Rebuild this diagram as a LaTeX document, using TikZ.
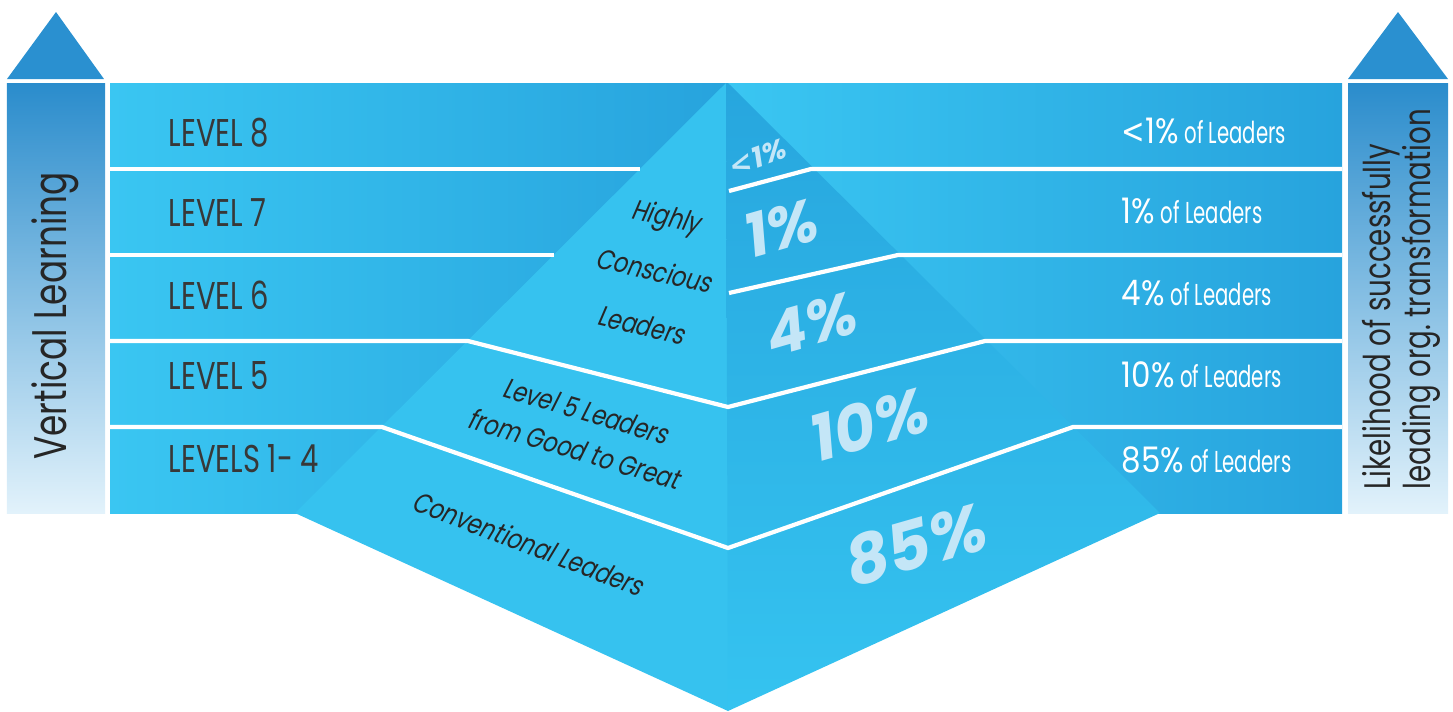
\documentclass[tikz,border=0pt]{standalone}
\usepackage{fontspec}
\setmainfont{Poppins}[FakeStretch=0.75]
\newfontfamily\facefont{Poppins}[FakeSlant=0.18, FakeStretch=0.8]
\newfontfamily\pctfont{Poppins}[UprightFont={* Bold}, FakeSlant=0.2]
\newfontfamily\numfont{Poppins}[FakeStretch=0.88]
\newfontfamily\narrowfont{Poppins}[FakeStretch=0.65]
\newfontfamily\lessfont{DejaVu Sans}[FakeStretch=0.8]
\newfontfamily\lessboldfont{DejaVu Sans}[UprightFont={* Bold}, FakeSlant=0.2]
\usepackage{tikz}

\definecolor{bandlight}{HTML}{3AC6F2}
\definecolor{banddark}{HTML}{27A3DD}
\definecolor{faceleft}{HTML}{36C2EF}
\definecolor{facetop}{HTML}{27A6DE}
\definecolor{facebot}{HTML}{35C3F0}
\definecolor{coltop}{HTML}{2A8CCC}
\definecolor{colbot}{HTML}{E2F2FB}
\definecolor{arrowtip}{HTML}{2A90D0}
\definecolor{levelgray}{HTML}{383838}
\definecolor{pctblue}{HTML}{C4E6F7}

\newcommand{\sharetext}[1]{{\numfont\fontsize{10}{12}\selectfont #1}\,{\narrowfont\fontsize{8.6}{10}\selectfont of Leaders}}

\tikzset{
    levellabel/.style={anchor=west, inner sep=0pt, text=levelgray, font=\fontsize{11}{13}\selectfont},
    sharelabel/.style={anchor=west, inner sep=0pt, text=white},
    facelabel/.style={inner sep=0pt, text=black!85, align=center, font=\facefont\fontsize{8}{11.3}\selectfont},
    bigpct/.style={inner sep=0pt, text=pctblue, font=\pctfont\fontsize{17}{19}\selectfont, rotate=16},
    sepline/.style={draw=white, line width=1.2pt},
    colcaption/.style={inner sep=0pt, rotate=90, text=black!85, align=left}
}

\begin{document}
\begin{tikzpicture}[x=0.01cm,y=-0.01cm]
        \useasboundingbox (0,0) rectangle (1453,711);

        % Side columns
        \shade [top color=coltop, bottom color=colbot] (7,83) rectangle (105,513);
        \fill [arrowtip] (7,79) -- (104,79) -- (56,12) -- cycle;
        \shade [top color=coltop, bottom color=colbot] (1348,83) rectangle (1448,513);
        \fill [arrowtip] (1348,79) -- (1448,79) -- (1398,12) -- cycle;

        % Bands
        \shade [left color=bandlight, right color=banddark] (110,83) rectangle (728,513);
        \shade [left color=bandlight, middle color=bandlight!45!banddark, right color=banddark]
            (728,83) rectangle (1342,513);

        % Pyramid faces
        \fill [faceleft] (726,83) -- (295,513) -- (728,711) -- (728,83) -- cycle;
        \shade [top color=facetop, bottom color=facebot]
            (726,83) -- (728,83) -- (1160,513) -- (728,711) -- cycle;

        % Level separators
        \draw [sepline] (110,169) -- (640,169);
        \draw [sepline] (110,255) -- (554,255);
        \draw [sepline] (110,341) -- (468,341) -- (728,407) -- (985,341) -- (1342,341);
        \draw [sepline] (110,427) -- (382,427) -- (728,548) -- (1073,427) -- (1342,427);
        \draw [sepline] (729,191) -- (811,169) -- (1342,169);
        \draw [sepline] (729,293) -- (898,255) -- (1342,255);

        % Level names
        \node [levellabel] (lvl8) at (168,133) {LEVEL 8};
        \node [levellabel] (lvl7) at (168,213) {LEVEL 7};
        \node [levellabel] (lvl6) at (168,295) {LEVEL 6};
        \node [levellabel] (lvl5) at (168,376) {LEVEL 5};
        \node [levellabel] (lvl14) at (168,459) {LEVELS 1- 4};

        % Shares
        \node [sharelabel] (share8) at (1121,131) {\sharetext{{\lessfont<}1\%}};
        \node [sharelabel] (share7) at (1121,211) {\sharetext{1\%}};
        \node [sharelabel] (share6) at (1121,293) {\sharetext{4\%}};
        \node [sharelabel] (share5) at (1121,375) {\sharetext{10\%}};
        \node [sharelabel] (share14) at (1121,460) {\sharetext{85\%}};

        % Pyramid, left face
        \node [facelabel, rotate=-13, font=\facefont\fontsize{8}{15.9}\selectfont] (highly) at (654,270)
            {Highly\\Conscious\\Leaders};
        \node [facelabel, rotate=-16.5] (level5) at (580,430) {Level 5 Leaders\\from Good to Great};
        \node [facelabel, rotate=-21] (conv) at (528,543) {Conventional Leaders};

        % Pyramid, right face
        \node [bigpct, rotate=4, font=\pctfont\fontsize{8}{9}\selectfont] (pct8) at (756,158)
            {{\lessboldfont<}1\%};
        \node [bigpct] (pct7) at (778,229) {1\%};
        \node [bigpct] (pct6) at (808,325) {4\%};
        \node [bigpct, font=\pctfont\fontsize{18}{20}\selectfont] (pct5) at (866,425) {10\%};
        \node [bigpct, font=\pctfont\fontsize{19}{21}\selectfont] (pct14) at (912,545) {85\%};

        % Column captions
        \node [colcaption, font=\fontsize{13}{15}\selectfont] (vert) at (55,316) {Vertical Learning};
        \node [colcaption, font=\fontsize{10.5}{11.4}\selectfont, anchor=south west] (likely) at (1441,490)
            {Likelihood of successfully\\leading org.\ transformation};
\end{tikzpicture}
\end{document}
